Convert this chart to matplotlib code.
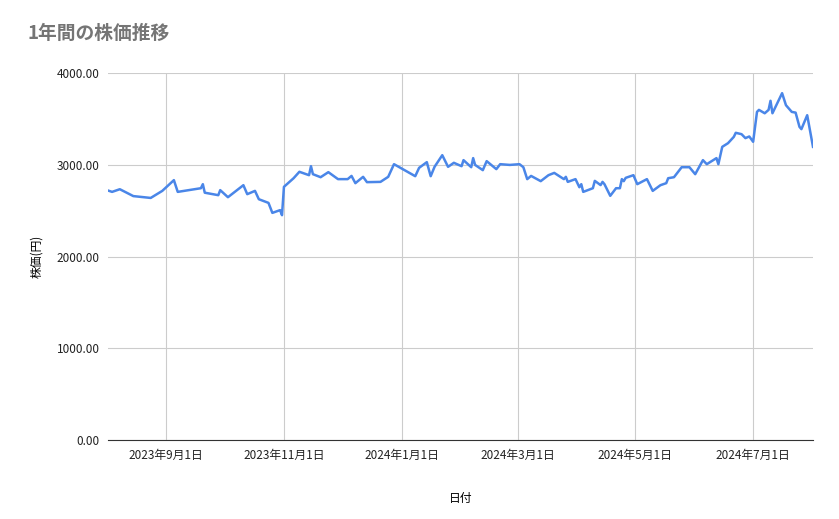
import pandas as pd
import matplotlib
matplotlib.use("Agg")
import matplotlib.pyplot as plt
import matplotlib.dates as mdates
from matplotlib.ticker import FuncFormatter

plt.rcParams["font.family"] = ["Noto Sans CJK JP", "DejaVu Sans"]

# values
dates = [
    "2023-08-02", "2023-08-04", "2023-08-08", "2023-08-15", "2023-08-24", "2023-08-30",
    "2023-09-05", "2023-09-07", "2023-09-19", "2023-09-20", "2023-09-21", "2023-09-28",
    "2023-09-29", "2023-10-03", "2023-10-11", "2023-10-13", "2023-10-17", "2023-10-19",
    "2023-10-24", "2023-10-26", "2023-10-30", "2023-10-31", "2023-11-01", "2023-11-06",
    "2023-11-09", "2023-11-14", "2023-11-15", "2023-11-16", "2023-11-20", "2023-11-24",
    "2023-11-29", "2023-12-04", "2023-12-06", "2023-12-08", "2023-12-12", "2023-12-14",
    "2023-12-21", "2023-12-25", "2023-12-28", "2024-01-08", "2024-01-10", "2024-01-14",
    "2024-01-16", "2024-01-18", "2024-01-22", "2024-01-25", "2024-01-28", "2024-02-01",
    "2024-02-02", "2024-02-06", "2024-02-07", "2024-02-08", "2024-02-12", "2024-02-14",
    "2024-02-19", "2024-02-21", "2024-02-26", "2024-03-02", "2024-03-04", "2024-03-06",
    "2024-03-08", "2024-03-13", "2024-03-17", "2024-03-20", "2024-03-25", "2024-03-26",
    "2024-03-27", "2024-03-31", "2024-04-02", "2024-04-03", "2024-04-04", "2024-04-09",
    "2024-04-10", "2024-04-13", "2024-04-14", "2024-04-15", "2024-04-18", "2024-04-21",
    "2024-04-23", "2024-04-24", "2024-04-25", "2024-04-26", "2024-04-30", "2024-05-02",
    "2024-05-07", "2024-05-10", "2024-05-14", "2024-05-17", "2024-05-18", "2024-05-21",
    "2024-05-25", "2024-05-29", "2024-06-01", "2024-06-05", "2024-06-07", "2024-06-12",
    "2024-06-13", "2024-06-15", "2024-06-18", "2024-06-21", "2024-06-22", "2024-06-25",
    "2024-06-27", "2024-06-29", "2024-07-01", "2024-07-03", "2024-07-04", "2024-07-07",
    "2024-07-09", "2024-07-10", "2024-07-11", "2024-07-16", "2024-07-18", "2024-07-21",
    "2024-07-23", "2024-07-25", "2024-07-26", "2024-07-29", "2024-08-01",
]
prices = [
    2720, 2706, 2735, 2660, 2640, 2717,
    2834, 2706, 2746, 2790, 2697, 2670,
    2725, 2648, 2779, 2681, 2717, 2626,
    2586, 2477, 2507, 2452, 2761, 2855,
    2925, 2888, 2986, 2899, 2866, 2921,
    2845, 2845, 2880, 2801, 2870, 2812,
    2815, 2870, 3008, 2877, 2968, 3030,
    2877, 2979, 3106, 2979, 3023, 2986,
    3052, 2975, 3074, 3000, 2943, 3041,
    2954, 3008, 3000, 3008, 2975, 2845,
    2880, 2823, 2888, 2913, 2845, 2870,
    2815, 2845, 2757, 2790, 2706, 2746,
    2826, 2780, 2815, 2790, 2663, 2746,
    2746, 2845, 2823, 2859, 2888, 2790,
    2845, 2717, 2779, 2801, 2855, 2866,
    2975, 2975, 2899, 3052, 3008, 3074,
    3008, 3197, 3237, 3306, 3350, 3335,
    3292, 3310, 3252, 3578, 3600, 3563,
    3600, 3699, 3563, 3782, 3651, 3578,
    3570, 3415, 3390, 3542, 3197,
]
tick_dates = ["2023-09-01", "2023-11-01", "2024-01-01", "2024-03-01", "2024-05-01", "2024-07-01"]

df = pd.DataFrame({"date": pd.to_datetime(dates), "price": prices})
ticks = pd.to_datetime(tick_dates)

fig = plt.figure(figsize=(8.39, 5.19), dpi=100)
ax = fig.add_axes([0.129, 0.152, 0.840, 0.707])
ax.plot(df["date"], df["price"], color="#4a86e8", linewidth=1.8)

ax.set_xlim(pd.Timestamp("2023-08-02"), pd.Timestamp("2024-08-01"))
ax.set_ylim(0, 4000)
ax.set_yticks([0, 1000, 2000, 3000, 4000])
ax.yaxis.set_major_formatter(FuncFormatter(lambda v, p: f"{v:.2f}"))
ax.set_xticks(ticks)
ax.set_xticklabels([f"{d.year}年{d.month}月{d.day}日" for d in ticks])
ax.grid(True, color="#cccccc", linewidth=0.8)
ax.set_axisbelow(True)
for s in ["top", "right", "left"]:
    ax.spines[s].set_visible(False)
ax.spines["bottom"].set_color("#333333")
ax.tick_params(length=0, labelsize=8.5, colors="#222222", pad=6)

ax.set_xlabel("日付", fontsize=8.5, labelpad=22)
ax.set_ylabel("株価(円)", fontsize=8.5, labelpad=10)
fig.text(0.033, 0.925, "1年間の株価推移", fontsize=13.5, color="#757575", fontweight="bold")

fig.savefig("out.png", dpi=100)
